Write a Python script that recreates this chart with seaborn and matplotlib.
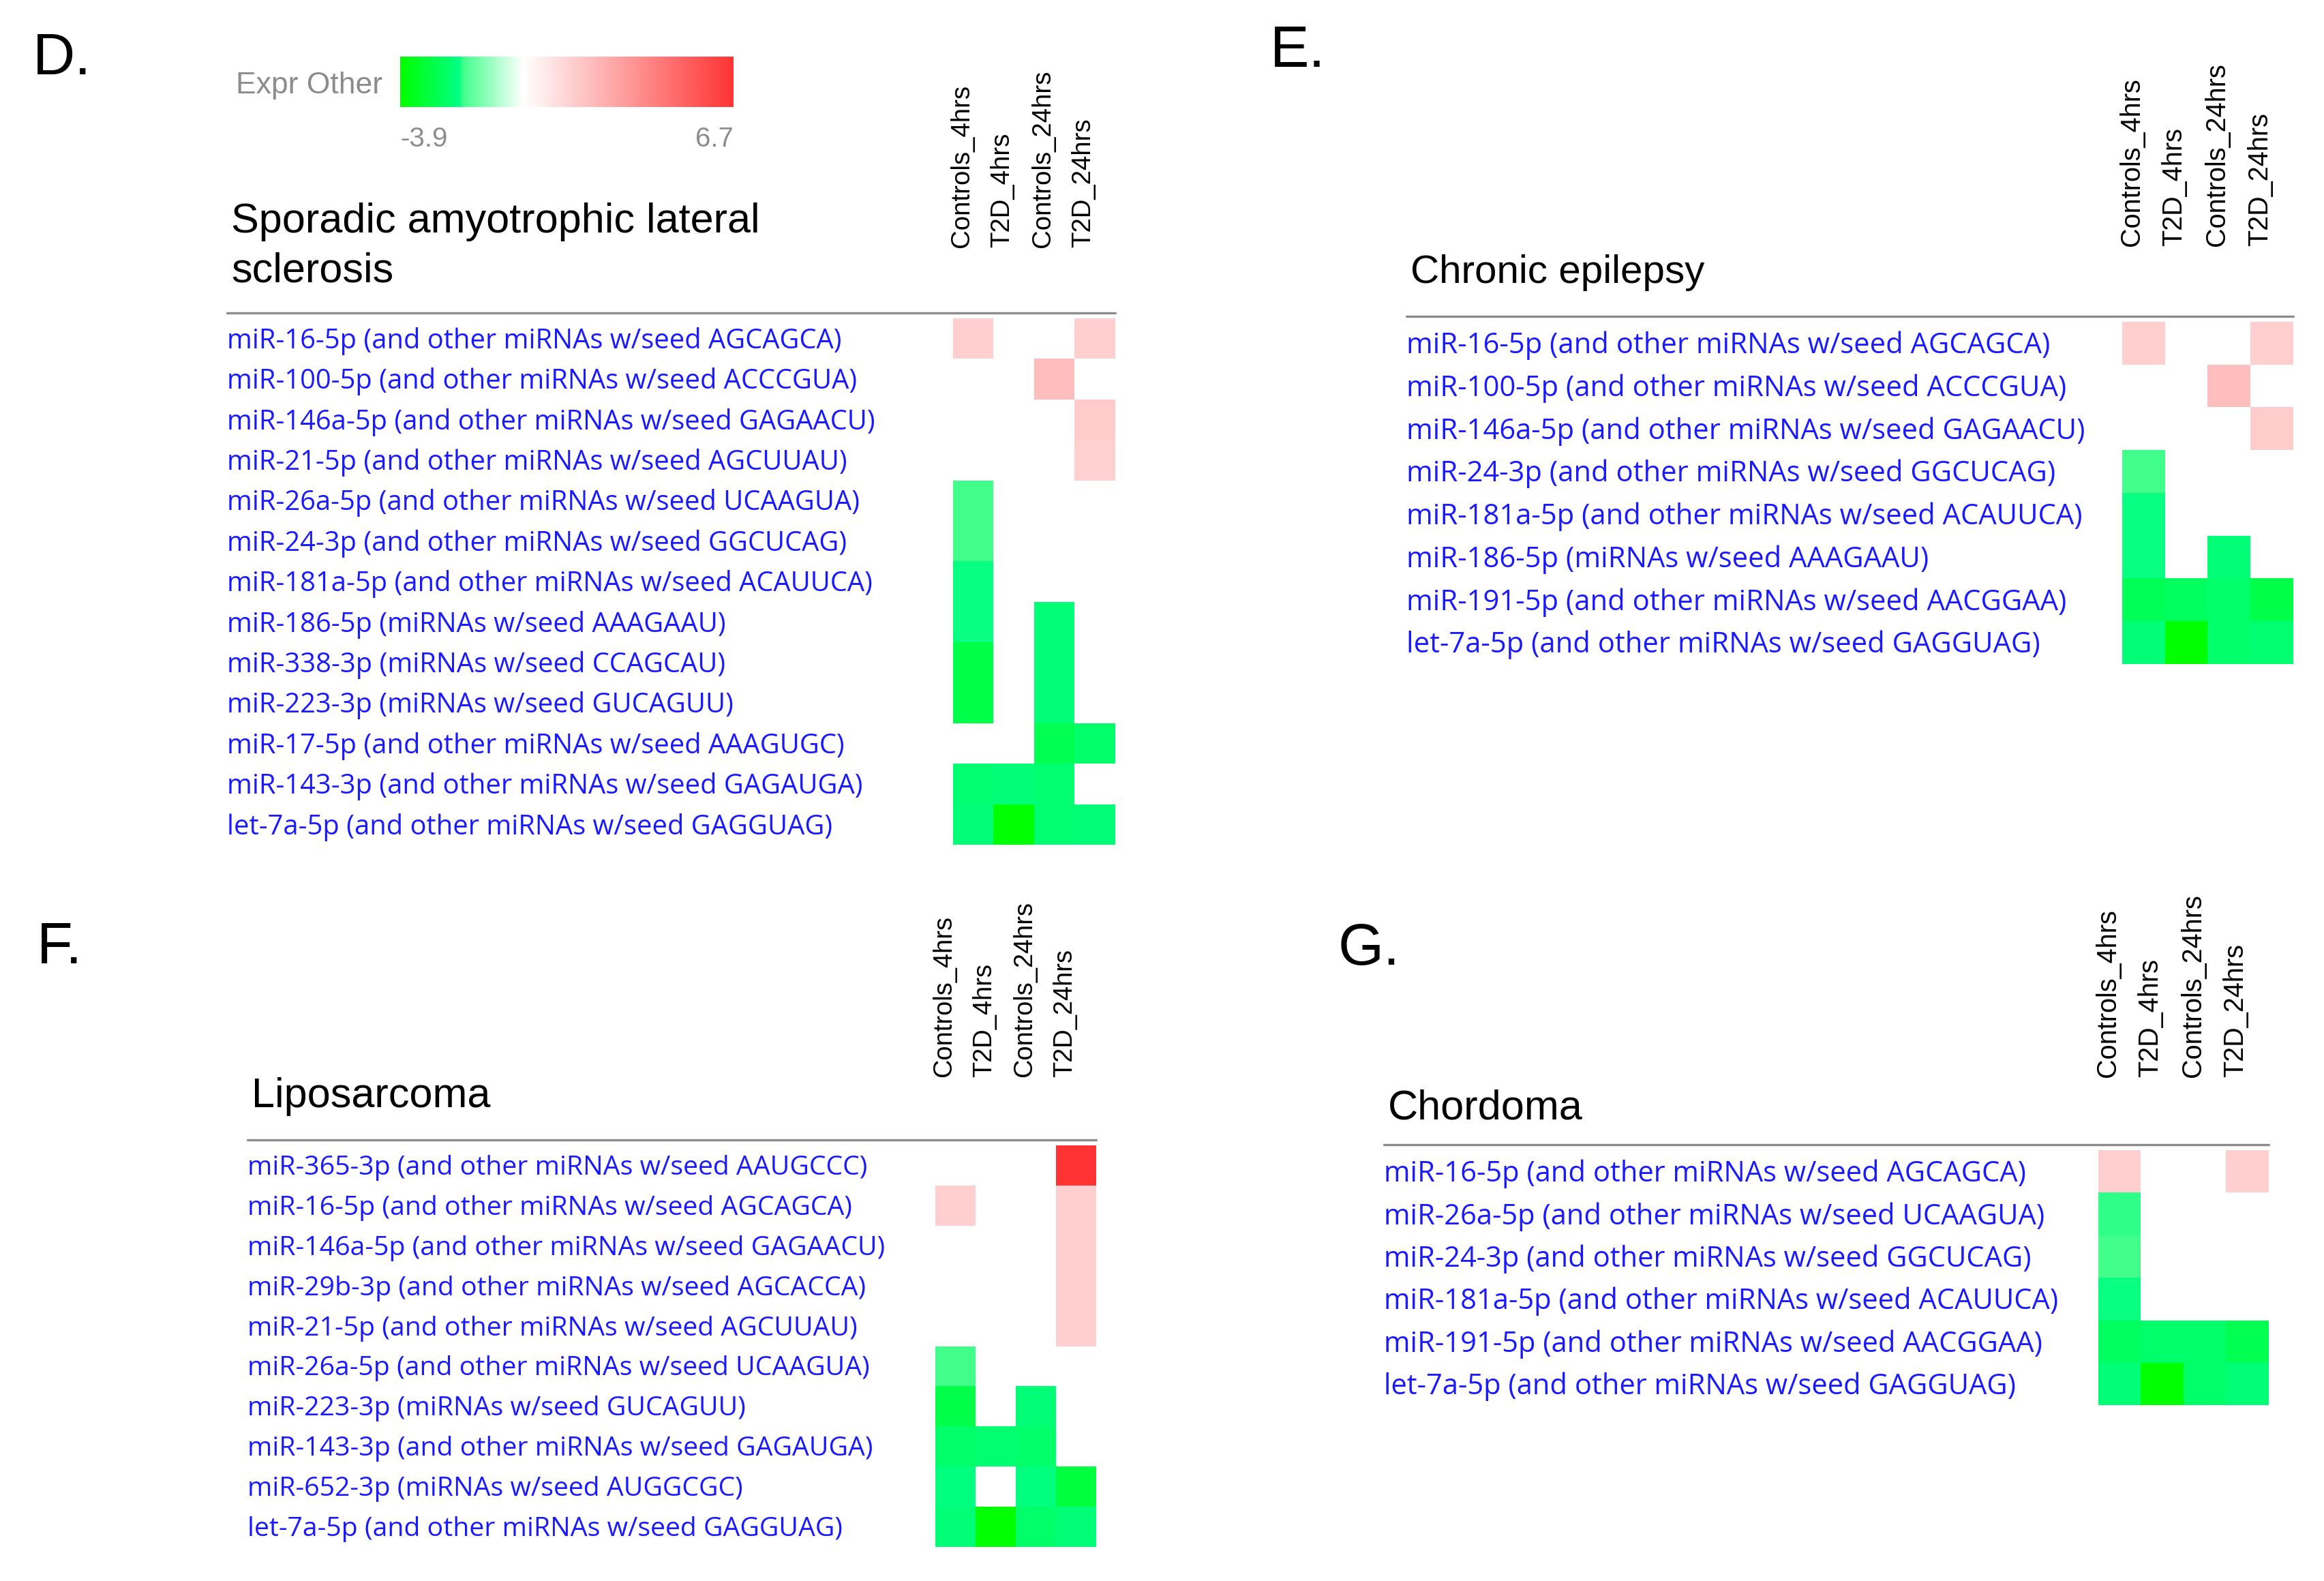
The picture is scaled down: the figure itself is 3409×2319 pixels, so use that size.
import numpy as np
import pandas as pd
import seaborn as sns
import matplotlib.pyplot as plt
from matplotlib.colors import LinearSegmentedColormap
from matplotlib.lines import Line2D
from matplotlib.transforms import blended_transform_factory

sns.set_theme(style='white')
plt.rcParams['font.family'] = ['Liberation Sans', 'DejaVu Sans']

samples = ['Controls_4hrs', 'T2D_4hrs', 'Controls_24hrs', 'T2D_24hrs']
vmin, vmax = -3.9, 6.7
na = None

# D. sporadic ALS
d_title = 'Sporadic amyotrophic lateral\nsclerosis'
d_rows = [
    'miR-16-5p (and other miRNAs w/seed AGCAGCA)',
    'miR-100-5p (and other miRNAs w/seed ACCCGUA)',
    'miR-146a-5p (and other miRNAs w/seed GAGAACU)',
    'miR-21-5p (and other miRNAs w/seed AGCUUAU)',
    'miR-26a-5p (and other miRNAs w/seed UCAAGUA)',
    'miR-24-3p (and other miRNAs w/seed GGCUCAG)',
    'miR-181a-5p (and other miRNAs w/seed ACAUUCA)',
    'miR-186-5p (miRNAs w/seed AAAGAAU)',
    'miR-338-3p (miRNAs w/seed CCAGCAU)',
    'miR-223-3p (miRNAs w/seed GUCAGUU)',
    'miR-17-5p (and other miRNAs w/seed AAAGUGC)',
    'miR-143-3p (and other miRNAs w/seed GAGAUGA)',
    'let-7a-5p (and other miRNAs w/seed GAGGUAG)',
]
d_values = [
    [1.6, na, na, 1.6],
    [na, na, 2.14, na],
    [na, na, na, 1.73],
    [na, na, na, 1.55],
    [-1.9, na, na, na],
    [-1.9, na, na, na],
    [-2.0, na, na, na],
    [-2.0, na, -2.17, na],
    [-2.86, na, -2.17, na],
    [-2.86, na, -2.17, na],
    [na, na, -2.74, -2.4],
    [-2.28, -2.17, -2.28, na],
    [-2.17, -3.9, -2.28, -2.17],
]

# E. chronic epilepsy
e_title = 'Chronic epilepsy'
e_rows = [
    'miR-16-5p (and other miRNAs w/seed AGCAGCA)',
    'miR-100-5p (and other miRNAs w/seed ACCCGUA)',
    'miR-146a-5p (and other miRNAs w/seed GAGAACU)',
    'miR-24-3p (and other miRNAs w/seed GGCUCAG)',
    'miR-181a-5p (and other miRNAs w/seed ACAUUCA)',
    'miR-186-5p (miRNAs w/seed AAAGAAU)',
    'miR-191-5p (and other miRNAs w/seed AACGGAA)',
    'let-7a-5p (and other miRNAs w/seed GAGGUAG)',
]
e_values = [
    [1.6, na, na, 1.6],
    [na, na, 2.14, na],
    [na, na, na, 1.65],
    [-1.9, na, na, na],
    [-2.0, na, na, na],
    [-2.0, na, -2.17, na],
    [-2.63, -2.5, -2.4, -2.86],
    [-2.17, -3.9, -2.4, -2.28],
]

# F. liposarcoma
f_title = 'Liposarcoma'
f_rows = [
    'miR-365-3p (and other miRNAs w/seed AAUGCCC)',
    'miR-16-5p (and other miRNAs w/seed AGCAGCA)',
    'miR-146a-5p (and other miRNAs w/seed GAGAACU)',
    'miR-29b-3p (and other miRNAs w/seed AGCACCA)',
    'miR-21-5p (and other miRNAs w/seed AGCUUAU)',
    'miR-26a-5p (and other miRNAs w/seed UCAAGUA)',
    'miR-223-3p (miRNAs w/seed GUCAGUU)',
    'miR-143-3p (and other miRNAs w/seed GAGAUGA)',
    'miR-652-3p (miRNAs w/seed AUGGCGC)',
    'let-7a-5p (and other miRNAs w/seed GAGGUAG)',
]
f_values = [
    [na, na, na, 6.7],
    [1.6, na, na, 1.6],
    [na, na, na, 1.6],
    [na, na, na, 1.6],
    [na, na, na, 1.6],
    [-1.9, na, na, na],
    [-2.86, na, -2.17, na],
    [-2.4, -2.28, -2.4, na],
    [-2.05, na, -2.05, -2.98],
    [-2.17, -3.9, -2.4, -2.17],
]

# G. chordoma
g_title = 'Chordoma'
g_rows = [
    'miR-16-5p (and other miRNAs w/seed AGCAGCA)',
    'miR-26a-5p (and other miRNAs w/seed UCAAGUA)',
    'miR-24-3p (and other miRNAs w/seed GGCUCAG)',
    'miR-181a-5p (and other miRNAs w/seed ACAUUCA)',
    'miR-191-5p (and other miRNAs w/seed AACGGAA)',
    'let-7a-5p (and other miRNAs w/seed GAGGUAG)',
]
g_values = [
    [1.6, na, na, 1.6],
    [-1.93, na, na, na],
    [-1.9, na, na, na],
    [-2.0, na, na, na],
    [-2.5, -2.4, -2.4, -2.74],
    [-2.17, -3.9, -2.4, -2.17],
]

# green-white-red scale like the original viewer
nodes = [(-3.9, '#00ff00'), (-2.05, '#00ff80'), (-1.9, '#44ff8c'),
         (0.0, '#ffffff'), (6.7, '#ff3333')]
cmap = LinearSegmentedColormap.from_list(
    'expr', [((v - vmin) / (vmax - vmin), c) for v, c in nodes])

W, H = 3409, 2319
fig = plt.figure(figsize=(W / 100, H / 100), dpi=100)


def fx(x):
    return x / W


def fy(y):
    return 1 - y / H


def draw_panel(letter, title, rows, values, lay):
    n = len(rows)
    cell = lay['cell']
    left, top = lay['left'], lay['top']
    right = left + 4 * cell
    ax = fig.add_axes([fx(left), fy(top + n * cell), 4 * cell / W, n * cell / H])
    df = pd.DataFrame(np.array(values, dtype=float), index=rows, columns=samples)
    sns.heatmap(df, ax=ax, cmap=cmap, vmin=vmin, vmax=vmax, cbar=False,
                xticklabels=False, yticklabels=False)
    ax.set_xlabel('')
    ax.set_ylabel('')

    fig.text(fx(lay['letter'][0]), fy(lay['letter'][1]), letter,
             fontsize=62, ha='left', va='baseline', color='black')
    for k, line in enumerate(title.split('\n')):
        fig.text(fx(lay['label_x'] + 6), fy(lay['title_base'] + k * 72), line,
                 fontsize=lay['title_size'], ha='left', va='baseline',
                 color='black')

    trans_rows = blended_transform_factory(fig.transFigure, ax.transData)
    for i, name in enumerate(rows):
        ax.text(fx(lay['label_x']), i + 0.56, name, transform=trans_rows,
                ha='left', va='center', color='#1a1aff',
                fontsize=lay['label_size'], family=['Open Sans', 'DejaVu Sans'])

    trans_cols = blended_transform_factory(ax.transData, fig.transFigure)
    for j, s in enumerate(samples):
        ax.text(j + 0.22, fy(lay['col_bottom']), s, transform=trans_cols,
                rotation=90, ha='center', va='bottom', color='black',
                fontsize=lay['col_size'])

    fig.add_artist(Line2D([fx(lay['label_x']), fx(right)],
                          [fy(top - 8)] * 2, color='#8c8c8c', lw=2.4))
    return ax


layouts = {
    'D': dict(letter=(48, 109), label_x=333, title_base=341, title_size=44,
              left=1398, top=467, cell=59.4, col_bottom=363, col_size=27.6,
              label_size=28.7),
    'E': dict(letter=(1863, 98), label_x=2063, title_base=415, title_size=42,
              left=3113, top=472, cell=62.7, col_bottom=361, col_size=28.5,
              label_size=30.1),
    'F': dict(letter=(54, 1413), label_x=363, title_base=1624, title_size=44,
              left=1372, top=1680, cell=58.9, col_bottom=1580, col_size=27.4,
              label_size=28.3),
    'G': dict(letter=(1963, 1415), label_x=2030, title_base=1641,
              title_size=44, left=3078, top=1687, cell=62.4, col_bottom=1580,
              col_size=28.5, label_size=30.0),
}

ax_d = draw_panel('D.', d_title, d_rows, d_values, layouts['D'])
draw_panel('E.', e_title, e_rows, e_values, layouts['E'])
draw_panel('F.', f_title, f_rows, f_values, layouts['F'])
draw_panel('G.', g_title, g_rows, g_values, layouts['G'])

# colour key
cax = fig.add_axes([fx(587), fy(157), (1076 - 587) / W, (157 - 83) / H])
cb = fig.colorbar(ax_d.collections[0], cax=cax, orientation='horizontal')
cb.outline.set_visible(False)
cb.set_ticks([vmin, vmax])
cb.set_ticklabels(['-3.9', '6.7'])
cax.tick_params(length=0, pad=20, labelsize=29, colors='#8c8c8c')
for lbl, ha in zip(cax.get_xticklabels(), ['left', 'right']):
    lbl.set_horizontalalignment(ha)
fig.text(fx(561), fy(126), 'Expr Other', ha='right', va='center',
         fontsize=32, color='#8c8c8c')

fig.savefig('out.png', dpi=100, facecolor='white')
